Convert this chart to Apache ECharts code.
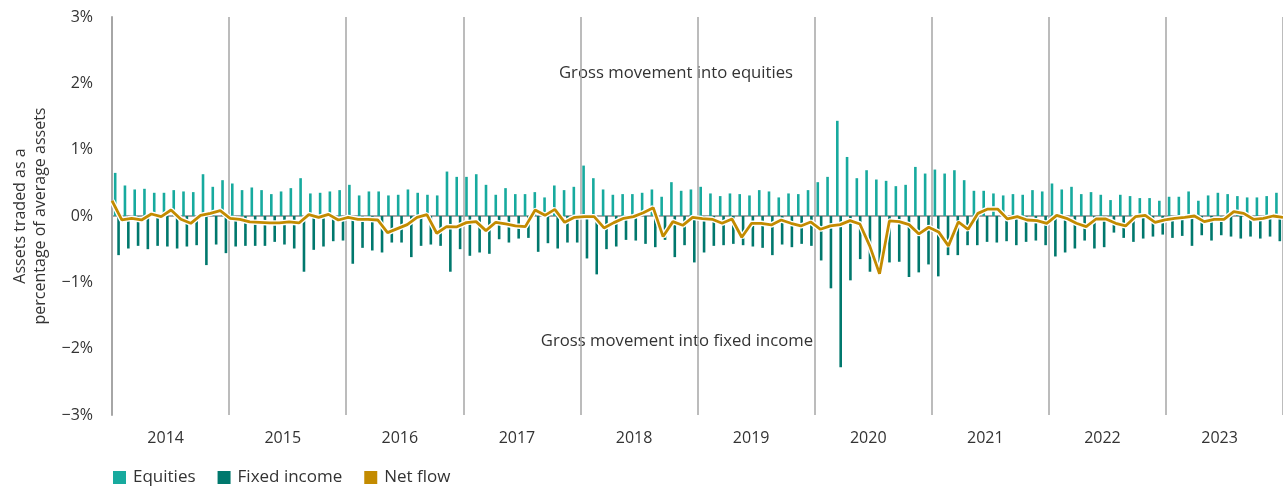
<!DOCTYPE html>
<html>
<head>
<meta charset="utf-8">
<script src="https://cdn.jsdelivr.net/npm/echarts@6/dist/echarts.min.js"></script>
<style>
html,body{margin:0;padding:0;background:#fff;}
#chart{width:1283px;height:487px;}
</style>
</head>
<body>
<div id="chart"></div>
<script>
const years = ['2014','2015','2016','2017','2018','2019','2020','2021','2022','2023'];
const yTicks = [-3,-2,-1,0,1,2,3];

const equities = [
  0.65,0.46,0.40,0.41,0.35,0.35,0.39,0.37,0.36,0.63,0.44,0.54,
  0.49,0.39,0.43,0.39,0.33,0.37,0.42,0.57,0.34,0.35,0.37,0.39,
  0.47,0.31,0.37,0.37,0.31,0.32,0.40,0.35,0.32,0.31,0.67,0.59,
  0.59,0.63,0.47,0.32,0.42,0.33,0.33,0.36,0.28,0.46,0.39,0.44,
  0.76,0.57,0.40,0.32,0.33,0.33,0.35,0.40,0.29,0.51,0.38,0.40,
  0.44,0.34,0.30,0.34,0.33,0.31,0.39,0.37,0.28,0.34,0.33,0.39,
  0.51,0.59,1.435,0.89,0.57,0.69,0.55,0.53,0.45,0.47,0.74,0.64,
  0.70,0.64,0.69,0.54,0.38,0.38,0.34,0.31,0.33,0.32,0.39,0.37,
  0.49,0.40,0.44,0.33,0.36,0.32,0.24,0.32,0.30,0.27,0.27,0.23,
  0.29,0.29,0.37,0.23,0.31,0.35,0.33,0.30,0.28,0.28,0.30,0.35
];

const fixedIncome = [
  -0.59,-0.49,-0.45,-0.50,-0.45,-0.46,-0.49,-0.46,-0.44,-0.74,-0.43,-0.56,
  -0.46,-0.45,-0.45,-0.45,-0.39,-0.43,-0.49,-0.84,-0.51,-0.46,-0.38,-0.37,
  -0.72,-0.48,-0.52,-0.55,-0.40,-0.40,-0.62,-0.45,-0.43,-0.45,-0.84,-0.50,
  -0.60,-0.55,-0.57,-0.35,-0.40,-0.34,-0.33,-0.54,-0.41,-0.49,-0.40,-0.40,
  -0.64,-0.88,-0.50,-0.46,-0.36,-0.37,-0.42,-0.47,-0.36,-0.62,-0.44,-0.70,
  -0.55,-0.45,-0.44,-0.42,-0.44,-0.46,-0.48,-0.59,-0.43,-0.47,-0.42,-0.45,
  -0.67,-1.09,-2.28,-0.97,-0.65,-0.84,-0.73,-0.70,-0.69,-0.92,-0.85,-0.73,
  -0.91,-0.59,-0.59,-0.44,-0.44,-0.39,-0.40,-0.38,-0.44,-0.39,-0.37,-0.44,
  -0.61,-0.55,-0.49,-0.37,-0.49,-0.47,-0.25,-0.33,-0.39,-0.34,-0.31,-0.28,
  -0.33,-0.30,-0.45,-0.29,-0.37,-0.29,-0.31,-0.34,-0.31,-0.34,-0.31,-0.38
];

const netFlow = [
  0.23,-0.06,-0.035,-0.06,0.03,-0.01,0.09,-0.05,-0.11,0.01,0.04,0.08,
  -0.035,-0.05,-0.09,-0.095,-0.105,-0.105,-0.09,-0.105,0.02,-0.02,0.025,-0.06,
  -0.02,-0.05,-0.05,-0.06,-0.25,-0.19,-0.13,-0.02,0.02,-0.26,-0.16,-0.165,
  -0.10,-0.085,-0.22,-0.095,-0.12,-0.15,-0.16,0.09,0.01,0.10,-0.095,-0.02,
  -0.01,-0.01,-0.18,-0.10,-0.035,-0.01,0.05,0.126,-0.31,-0.085,-0.14,-0.02,
  -0.04,-0.05,-0.11,-0.045,-0.32,-0.11,-0.11,-0.135,-0.06,-0.11,-0.15,-0.09,
  -0.20,-0.15,-0.13,-0.07,-0.12,-0.45,-0.87,-0.075,-0.085,-0.13,-0.27,-0.17,
  -0.24,-0.45,-0.09,-0.20,0.04,0.105,0.105,-0.045,-0.01,-0.06,-0.07,-0.11,
  0.01,-0.035,-0.11,-0.16,-0.045,-0.045,-0.11,-0.15,-0.01,0.01,-0.095,-0.06,
  -0.035,-0.02,0,-0.085,-0.05,-0.05,0.065,0.04,-0.05,-0.035,0.0,-0.02
];

const categories = [];
years.forEach(y => { for (let m = 1; m <= 12; m++) categories.push(y + '-' + m); });

const FONT = '"Open Sans"';
const TXT = '#333333';
const AXIS = '#a6a6a6';
const C_EQ = '#17aa9e';
const C_FI = '#00786d';
const C_NET = '#c38b00';

const chart = echarts.init(document.getElementById('chart'), null, {renderer: 'canvas'});
chart.setOption({
  animation: false,
  textStyle: {fontFamily: FONT},
  grid: {left: 112, right: 0, top: 17, bottom: 72, containLabel: false},
  legend: {
    left: 108, top: 464,
    itemWidth: 13, itemHeight: 13, itemGap: 22,
    icon: 'rect',
    textStyle: {fontFamily: FONT, fontSize: 17, color: TXT, padding: [0,0,0,2]},
    data: ['Equities', 'Fixed income', 'Net flow']
  },
  xAxis: [{
    type: 'category',
    data: categories,
    boundaryGap: true,
    axisLine: {show: true, lineStyle: {color: AXIS, width: 2}},
    axisTick: {show: false},
    axisLabel: {
      interval: 0,
      margin: 15,
      fontFamily: FONT, fontSize: 16, color: TXT,
      formatter: (v, i) => (i % 12 === 5 ? v.split('-')[0] : '')
    },
    splitLine: {
      show: true,
      interval: (i) => i % 12 === 0,
      lineStyle: {color: AXIS, width: 1.5}
    }
  }, {
    type: 'category',
    data: categories,
    boundaryGap: false,
    show: false
  }],
  yAxis: {
    type: 'value',
    min: -3, max: 3, interval: 1,
    axisLine: {show: true, lineStyle: {color: AXIS, width: 2}},
    axisTick: {show: false},
    splitLine: {show: false},
    axisLabel: {
      margin: 19,
      fontFamily: FONT, fontSize: 16, color: TXT,
      formatter: v => (v < 0 ? '\u2212' + Math.abs(v) : '' + v) + '%'
    }
  },
  graphic: [
    {type: 'text', x: 30, y: 216, rotation: Math.PI / 2,
     style: {text: 'Assets traded as a\npercentage of average assets', fill: TXT,
             font: '16px ' + FONT, textAlign: 'center', textVerticalAlign: 'middle', lineHeight: 20}},
    {type: 'text', x: 676, y: 73,
     style: {text: 'Gross movement into equities', fill: TXT, font: '16.7px ' + FONT,
             textAlign: 'center', textVerticalAlign: 'middle'}},
    {type: 'text', x: 677, y: 341,
     style: {text: 'Gross movement into fixed income', fill: TXT, font: '16.7px ' + FONT,
             textAlign: 'center', textVerticalAlign: 'middle'}}
  ],
  series: [
    {name: 'Equities', type: 'bar', xAxisIndex: 0, data: equities,
     barWidth: 2.6, barGap: '30%', itemStyle: {color: C_EQ}},
    {name: 'Fixed income', type: 'bar', xAxisIndex: 0, data: fixedIncome,
     barWidth: 2.6, barGap: '30%', itemStyle: {color: C_FI}},
    {name: 'halo', type: 'line', xAxisIndex: 1, data: netFlow, symbol: 'none',
     lineStyle: {color: '#ffffff', width: 5.5}, z: 3, silent: true},
    {name: 'Net flow', type: 'line', xAxisIndex: 1, data: netFlow, symbol: 'none',
     lineStyle: {color: C_NET, width: 2.8}, itemStyle: {color: C_NET}, z: 4}
  ]
});
</script>
</body>
</html>
